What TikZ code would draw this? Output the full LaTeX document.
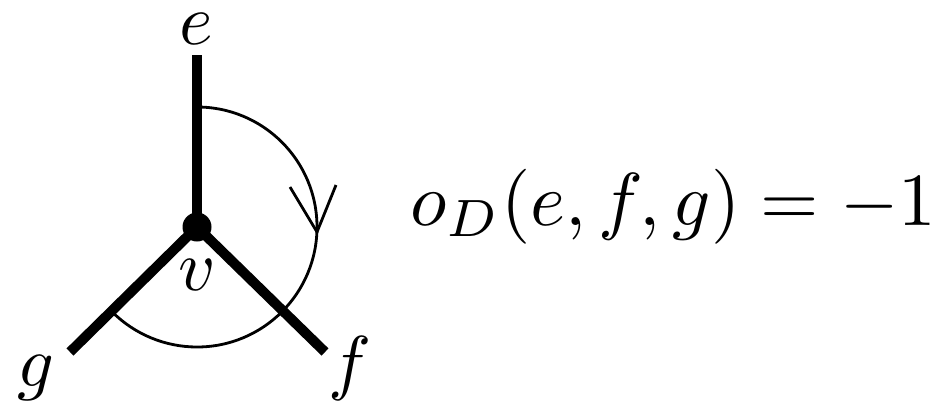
\documentclass[tikz,border=0pt]{standalone}
\begin{document}
\begin{tikzpicture}[x=1pt,y=-1pt,
  edge/.style={line width=10pt},
  thinline/.style={line width=2.8pt},
  lbl/.style={inner sep=0pt,scale=7.2,anchor=base}]
\useasboundingbox (0,0) rectangle (944,407);
\coordinate (v) at (197,227);
\coordinate (e) at (197,55);
\coordinate (g) at (70,352);
\coordinate (f) at (325,352);
\coordinate (tip) at (317,232);
\coordinate (a1) at (290,187);
\coordinate (a2) at (336,185);
\draw[edge] (v) -- (e);
\draw[edge] (v) -- (g);
\draw[edge] (v) -- (f);
\draw[thinline] (v) ++(0,-120) arc[start angle=-90,end angle=135,radius=120];
\draw[thinline,line join=miter] (a1) -- (tip) -- (a2);
\fill (v) circle (14.5);
\node[lbl] (le) at (196,44) {$e$};
\node[lbl] (lv) at (197,290) {$v$};
\node[lbl] (lg) at (36,386) {$g$};
\node[lbl] (lf) at (350,386) {$f$};
\node[lbl,scale=7.5/7.2,anchor=base west] (eq) at (409,225) {$o_D(e,f,g)=-1$};
\end{tikzpicture}
\end{document}
